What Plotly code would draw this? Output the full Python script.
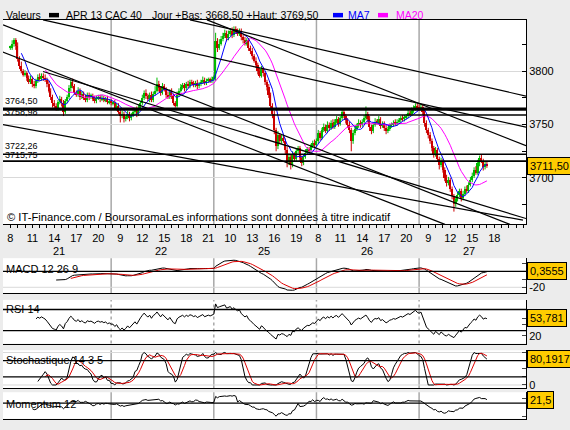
import numpy as np
import pandas as pd
import plotly.graph_objects as go

# ---------------- data ----------------
day_labels = ["21", "22", "25", "26", "27"]
first_hour = 8
hours_per_day = 14
bars_per_hour = 4

# 15-minute closes per day
close_21 = [3822, 3826, 3829, 3824, 3812, 3805, 3800, 3797, 3798, 3794, 3790, 3793,
            3788, 3786, 3791, 3795, 3793, 3796, 3794, 3792, 3788, 3782, 3776, 3770,
            3768, 3765, 3771, 3774, 3770, 3762, 3772, 3776, 3784, 3790, 3786, 3780,
            3778, 3782, 3776, 3779, 3775, 3773, 3778, 3776, 3777, 3774, 3772, 3775,
            3776, 3774, 3775, 3773, 3774, 3771, 3772, 3770]
close_22 = [3770, 3766, 3768, 3762, 3758, 3760, 3755, 3757, 3760, 3756, 3759, 3762,
            3764, 3760, 3766, 3770, 3775, 3780, 3777, 3774, 3778, 3773, 3779, 3782,
            3788, 3784, 3780, 3786, 3783, 3778, 3776, 3781, 3777, 3770, 3768, 3778,
            3782, 3785, 3787, 3784, 3788, 3786, 3790, 3789, 3787, 3789, 3786, 3788,
            3790, 3792, 3789, 3791, 3792, 3791, 3793, 3794]
close_25 = [3828, 3822, 3826, 3830, 3833, 3836, 3831, 3835, 3838, 3834, 3840, 3837,
            3835, 3838, 3832, 3829, 3826, 3829, 3822, 3819, 3814, 3810, 3806, 3800,
            3796, 3802, 3798, 3790, 3785, 3778, 3768, 3760, 3745, 3730, 3740, 3735,
            3738, 3735, 3726, 3715, 3720, 3712, 3722, 3718, 3725, 3728, 3719, 3714,
            3720, 3724, 3727, 3726, 3730, 3733, 3731, 3735]
close_26 = [3742, 3738, 3745, 3748, 3744, 3750, 3747, 3752, 3748, 3753, 3755, 3751,
            3756, 3762, 3758, 3754, 3750, 3745, 3735, 3742, 3746, 3749, 3752, 3750,
            3753, 3756, 3760, 3755, 3748, 3744, 3750, 3753, 3752, 3755, 3749, 3751,
            3747, 3744, 3746, 3749, 3750, 3752, 3751, 3753, 3754, 3756, 3755, 3757,
            3758, 3761, 3760, 3763, 3765, 3768, 3766, 3765]
close_27 = [3767, 3762, 3752, 3745, 3740, 3735, 3728, 3722, 3726, 3718, 3712, 3716,
            3708, 3700, 3695, 3698, 3690, 3683, 3676, 3680, 3684, 3688, 3681, 3685,
            3690, 3688, 3694, 3698, 3702, 3708, 3705, 3714, 3719, 3716, 3710, 3713,
            3711.5]

# upper / lower shadow lengths (points) per bar
wick_up_21 = [2, 3, 2, 2, 3, 2, 4, 2, 3, 2, 2, 3, 2, 3, 2, 2, 3, 2, 2, 3, 2, 3, 2, 2,
              3, 2, 2, 3, 2, 3, 2, 2, 3, 2, 3, 2, 2, 3, 2, 2, 2, 3, 2, 2, 2, 2, 3, 2,
              2, 2, 3, 2, 2, 3, 2, 2]
wick_dn_21 = [2, 2, 3, 4, 3, 3, 2, 2, 2, 3, 2, 2, 3, 2, 2, 2, 2, 2, 3, 2, 3, 2, 3, 4,
              3, 2, 2, 2, 3, 4, 2, 2, 2, 3, 2, 2, 2, 2, 3, 2, 2, 2, 2, 3, 2, 2, 2, 2,
              2, 3, 2, 2, 2, 2, 2, 2]
wick_up_22 = [2, 3, 2, 2, 2, 3, 2, 2, 3, 2, 2, 3, 2, 3, 3, 2, 3, 2, 3, 2, 2, 3, 2, 4,
              6, 3, 2, 3, 2, 2, 3, 2, 3, 2, 2, 3, 2, 3, 2, 2, 2, 3, 2, 2, 2, 2, 3, 2,
              2, 3, 2, 2, 2, 2, 2, 2]
wick_dn_22 = [2, 2, 3, 2, 6, 2, 3, 2, 2, 3, 2, 2, 2, 3, 2, 2, 2, 2, 3, 2, 3, 2, 2, 2,
              2, 3, 3, 2, 2, 3, 2, 2, 3, 2, 2, 2, 2, 2, 2, 3, 2, 2, 2, 2, 2, 2, 3, 2,
              2, 2, 2, 2, 2, 2, 2, 2]
wick_up_25 = [8, 3, 4, 3, 3, 3, 2, 3, 2, 3, 2, 2, 3, 2, 2, 2, 3, 2, 2, 2, 3, 2, 3, 2,
              3, 3, 2, 2, 2, 3, 2, 2, 3, 2, 4, 2, 3, 2, 2, 3, 3, 2, 3, 2, 3, 2, 2, 2,
              2, 3, 2, 2, 2, 2, 3, 2]
wick_dn_25 = [3, 4, 2, 2, 2, 2, 3, 2, 2, 3, 2, 2, 2, 2, 3, 3, 2, 2, 3, 3, 3, 2, 3, 3,
              2, 2, 3, 3, 3, 3, 4, 4, 4, 5, 3, 3, 3, 2, 4, 5, 3, 4, 2, 2, 2, 2, 3, 3,
              2, 2, 2, 2, 2, 2, 2, 2]
wick_up_26 = [3, 2, 2, 3, 2, 3, 2, 2, 3, 2, 3, 2, 2, 3, 2, 2, 2, 3, 2, 3, 2, 2, 3, 2,
              2, 3, 7, 2, 3, 2, 2, 3, 2, 3, 2, 2, 2, 3, 2, 2, 2, 2, 3, 2, 2, 2, 3, 2,
              2, 3, 2, 3, 3, 2, 2, 3]
wick_dn_26 = [3, 3, 2, 2, 2, 2, 3, 2, 2, 2, 2, 3, 2, 2, 2, 3, 3, 3, 10, 3, 2, 2, 2, 3,
              2, 2, 2, 3, 4, 3, 2, 2, 2, 2, 3, 2, 3, 3, 2, 2, 2, 2, 2, 2, 2, 2, 2, 2,
              2, 2, 2, 2, 2, 2, 3, 2]
wick_up_27 = [2.5, 2, 3, 2, 2, 3, 2, 2, 3, 2, 2, 3, 2, 2, 3, 3, 2, 2, 2, 3, 3, 2, 2, 3,
              2, 3, 2, 3, 3, 2, 3, 3, 2, 3, 2, 2, 2]
wick_dn_27 = [2, 3, 4, 3, 3, 3, 3, 3, 2, 3, 4, 2, 3, 3, 3, 2, 3, 3, 7.5, 3, 2, 2, 3, 2,
              2, 2, 2, 2, 2, 2, 2, 2, 3, 2, 3, 2, 2]

levels = [3764.50, 3758.98, 3722.26, 3715.75]
level_widths = [3.2, 1.6, 1.6, 1.6]

# user trend lines (hour index, price) -> (hour index, price)
trend_x0 = [24.51, 26.82, 4.46, -1.00, -1.13, 4.46, -1.40]
trend_p0 = [3848.1, 3848.1, 3848.1, 3843.4, 3818.3, 3799.7, 3750.4]
trend_x1 = [70.33, 70.33, 70.33, 68.14, 59.28, 70.33, 69.92]
trend_p1 = [3776.7, 3730.2, 3747.6, 3656.5, 3656.5, 3662.0, 3660.5]

last_labels = {"macd": 0.3555, "rsi": 53.781, "stoch": 80.1917, "mom": 21.5}
header_low, header_high = 3668.50, 3769.50

# ---------------- derived ----------------
closes = close_21 + close_22 + close_25 + close_26 + close_27
wick_up = wick_up_21 + wick_up_22 + wick_up_25 + wick_up_26 + wick_up_27
wick_dn = wick_dn_21 + wick_dn_22 + wick_dn_25 + wick_dn_26 + wick_dn_27
n = len(closes)
m = min(n, len(wick_up), len(wick_dn))
s = pd.Series(closes, dtype=float)
xh = np.arange(n) / bars_per_hour
opens = s.shift(1).fillna(s.iloc[0])
body_lo = np.minimum(opens, s)
body_hi = np.maximum(opens, s)
body_h = np.maximum(body_hi - body_lo, 1.2)
up = (s >= opens).values

ma7 = s.rolling(7).mean()
ma20 = s.rolling(20).mean()

ema12 = s.ewm(span=12, adjust=False).mean()
ema26 = s.ewm(span=26, adjust=False).mean()
macd = ema12 - ema26
sig = macd.ewm(span=9, adjust=False).mean()
macd[:25] = np.nan
sig[:33] = np.nan

d = s.diff()
g = d.clip(lower=0).ewm(alpha=1 / 14, adjust=False).mean()
l = (-d.clip(upper=0)).ewm(alpha=1 / 14, adjust=False).mean()
rsi = 100 - 100 / (1 + g / l)
rsi[:14] = np.nan

lo14 = s.rolling(14).min()
hi14 = s.rolling(14).max()
kraw = 100 * (s - lo14) / (hi14 - lo14)
k = kraw.rolling(3).mean()
dd = k.rolling(5).mean()

mom = s - s.shift(12)

# ---------------- layout helpers ----------------
W, H = 570, 430
def py(px):
    return 1 - px / H

X0, X1 = 3 / W, 526 / W
XR = [-1.0, 70.33]

FONT = "Liberation Sans, Arial, sans-serif"
GREEN = "#00bb00"
RED = "#cc0000"
GRIDC = "#d9d9d9"
DAYC = "#a8a8a8"

fig = go.Figure()

# shadows
for is_up, col in [(True, GREEN), (False, RED)]:
    wx, wy = [], []
    for i in range(m):
        if bool(up[i]) == is_up:
            wx += [xh[i], xh[i], None]
            wy += [body_lo[i] - wick_dn[i], body_hi[i] + wick_up[i], None]
    fig.add_trace(go.Scatter(x=wx, y=wy, mode="lines", line=dict(color=col, width=1),
                             hoverinfo="skip", xaxis="x", yaxis="y"))

# bodies
fig.add_trace(go.Bar(
    x=xh, y=body_h, base=body_lo, width=0.22,
    marker=dict(color=[GREEN if u else RED for u in up], line=dict(width=0)),
    hoverinfo="skip", xaxis="x", yaxis="y"))

fig.add_trace(go.Scatter(x=xh, y=ma20, mode="lines", line=dict(color="#ff00ff", width=1),
                         hoverinfo="skip", xaxis="x", yaxis="y"))
fig.add_trace(go.Scatter(x=xh, y=ma7, mode="lines", line=dict(color="#0000ff", width=1),
                         hoverinfo="skip", xaxis="x", yaxis="y"))

tx, ty = [], []
for a, b, c, e in zip(trend_x0, trend_p0, trend_x1, trend_p1):
    tx += [a, c, None]
    ty += [b, e, None]
fig.add_trace(go.Scatter(x=tx, y=ty, mode="lines", line=dict(color="black", width=1.2),
                         hoverinfo="skip", xaxis="x", yaxis="y"))

label_shift = [8, 3, 8, 6]
for lv, lw, sh in zip(levels, level_widths, label_shift):
    fig.add_trace(go.Scatter(x=XR, y=[lv, lv], mode="lines", line=dict(color="black", width=lw),
                             hoverinfo="skip", xaxis="x", yaxis="y"))
    fig.add_annotation(x=4 / W, xref="paper", y=lv, yref="y", xanchor="left", yanchor="middle",
                       yshift=sh, text=f"{lv:.2f}".replace(".", ","), showarrow=False,
                       font=dict(family=FONT, size=9, color="black"), borderpad=0)

# indicators
fig.add_trace(go.Scatter(x=xh, y=macd, mode="lines", line=dict(color="black", width=1),
                         hoverinfo="skip", xaxis="x2", yaxis="y2"))
fig.add_trace(go.Scatter(x=xh, y=sig, mode="lines", line=dict(color="#dd0000", width=1),
                         hoverinfo="skip", xaxis="x2", yaxis="y2"))
fig.add_trace(go.Scatter(x=xh, y=rsi, mode="lines", line=dict(color="black", width=1),
                         hoverinfo="skip", xaxis="x3", yaxis="y3"))
fig.add_trace(go.Scatter(x=xh, y=k, mode="lines", line=dict(color="black", width=1),
                         hoverinfo="skip", xaxis="x4", yaxis="y4"))
fig.add_trace(go.Scatter(x=xh, y=dd, mode="lines", line=dict(color="#dd0000", width=1),
                         hoverinfo="skip", xaxis="x4", yaxis="y4"))
fig.add_trace(go.Scatter(x=xh, y=mom, mode="lines", line=dict(color="black", width=1),
                         hoverinfo="skip", xaxis="x5", yaxis="y5"))

ind_lines = [("y2", 0), ("y3", 70), ("y3", 30), ("y4", 75), ("y4", 25), ("y5", 0)]
for ax, v in ind_lines:
    fig.add_shape(type="line", xref="x domain", yref=ax, x0=0, x1=1, y0=v, y1=v,
                  line=dict(color="black", width=1.3))

last_label_idx = 66
tickvals = list(range(0, 71))
ticktext = [str(first_hour + (i % hours_per_day)) if (i % 3 == 0 and i <= last_label_idx) else ""
            for i in tickvals]

day_starts = [i * hours_per_day for i in range(1, len(day_labels))]
for xa, ya, dash in [("x", "y", "solid"), ("x2", "y2", "solid"), ("x3", "y3", "dot"),
                     ("x4", "y4", "solid"), ("x5", "y5", "solid")]:
    for ds in day_starts:
        fig.add_shape(type="line", xref=xa, yref=f"{ya} domain", x0=ds - 0.25, x1=ds - 0.25,
                      y0=0, y1=1, line=dict(color=DAYC, width=1.5, dash=dash), layer="below")

for i, dl in enumerate(day_labels):
    fig.add_annotation(x=i * hours_per_day + 6.6, xref="x", y=py(253), yref="paper",
                       text=dl, showarrow=False, font=dict(family=FONT, size=11, color="black"))

axis_common = dict(showgrid=False, zeroline=False, range=XR, linecolor="black", linewidth=1,
                   showline=True, fixedrange=True)
ytick_font = dict(family=FONT, size=11, color="black")

fig.update_layout(
    width=W, height=H, autosize=False, margin=dict(l=0, r=0, t=0, b=0),
    paper_bgcolor="#ececec", plot_bgcolor="white", showlegend=False, bargap=0,
    xaxis=dict(domain=[X0, X1], anchor="y", mirror=True, ticks="outside", ticklen=3,
               tickcolor="black", tickvals=tickvals, ticktext=ticktext,
               tickfont=dict(family=FONT, size=11, color="black"), **axis_common),
    yaxis=dict(domain=[py(226), py(20)], anchor="x", side="right", range=[3656.5, 3848.1],
               tickvals=[3700, 3750, 3800], ticks="inside", ticklen=4, tickcolor="black",
               minor=dict(tickvals=[3675, 3725, 3775, 3825], ticks="inside", ticklen=4,
                          tickcolor="black"),
               showgrid=True, gridcolor=GRIDC, zeroline=False, showline=True,
               linecolor="black", tickfont=ytick_font),
    xaxis2=dict(domain=[X0, X1], anchor="y2", matches="x", showticklabels=False, **axis_common),
    yaxis2=dict(domain=[py(295), py(260)], anchor="x2", side="right", range=[-27.1, 16.6],
                tickvals=[10, 0, -10, -20], ticktext=["", "", "", "-20"], ticks="inside",
                ticklen=4, showgrid=False, zeroline=False, showline=True, linecolor="black",
                tickfont=ytick_font),
    xaxis3=dict(domain=[X0, X1], anchor="y3", matches="x", showticklabels=False, **axis_common),
    yaxis3=dict(domain=[py(346), py(302)], anchor="x3", side="right", range=[5.6, 88.2],
                tickvals=[53, 41, 20], ticktext=["", "", "20"], ticks="inside", ticklen=4,
                showgrid=False, zeroline=False, showline=True, linecolor="black",
                tickfont=ytick_font),
    xaxis4=dict(domain=[X0, X1], anchor="y4", matches="x", showticklabels=False, **axis_common),
    yaxis4=dict(domain=[py(390.7), py(352.7)], anchor="x4", side="right", range=[-9.2, 107],
                tickvals=[100, 75, 50, 25, 0], ticktext=["", "", "", "", "0"], ticks="inside",
                ticklen=4, showgrid=False, zeroline=False, showline=True, linecolor="black",
                tickfont=ytick_font),
    xaxis5=dict(domain=[X0, X1], anchor="y5", matches="x", showticklabels=False, **axis_common),
    yaxis5=dict(domain=[py(421.7), py(395)], anchor="x5", side="right", range=[-95.7, 67],
                tickvals=[30, -80], ticktext=["", ""], ticks="inside", ticklen=4,
                showgrid=False, zeroline=False, showline=True, linecolor="black",
                tickfont=ytick_font),
)

for ax, v in [("y2", -20), ("y4", 100), ("y4", 0)]:
    fig.add_shape(type="line", xref="x domain", yref=ax, x0=0, x1=1, y0=v, y1=v,
                  line=dict(color=GRIDC, width=1), layer="below")

def fmt(v, dec):
    return f"{v:.{dec}f}".replace(".", ",")

boxes = [("y", closes[-1], fmt(closes[-1], 2)),
         ("y2", last_labels["macd"], fmt(last_labels["macd"], 4)),
         ("y3", last_labels["rsi"], fmt(last_labels["rsi"], 3)),
         ("y4", last_labels["stoch"], fmt(last_labels["stoch"], 4)),
         ("y5", last_labels["mom"], fmt(last_labels["mom"], 1))]
for ax, v, t in boxes:
    fig.add_annotation(x=527 / W, xref="paper", y=v, yref=ax, xanchor="left", yanchor="middle",
                       text=t, showarrow=False, bgcolor="#ffcc00", bordercolor="black",
                       borderwidth=1, borderpad=2, font=dict(family=FONT, size=11, color="black"))

for t, ypx in [("MACD 12 26 9", 270.5), ("RSI 14", 311.5), ("Stochastique 14 3 5", 362.5),
               ("Momentum 12", 407)]:
    fig.add_annotation(x=4 / W, xref="paper", y=py(ypx), yref="paper", xanchor="left",
                       yanchor="middle", text=t, showarrow=False,
                       font=dict(family=FONT, size=11, color="black"))

fig.add_annotation(x=5 / W, xref="paper", y=py(219), yref="paper", xanchor="left", yanchor="middle",
                   text="\u00a9 IT-Finance.com / BoursoramaLes informations sont données à titre indicatif",
                   showarrow=False, font=dict(family=FONT, size=11.2, color="black"))

hy = py(15)
hdr_font = dict(family=FONT, size=10.5, color="black")
fig.add_annotation(x=4 / W, xref="paper", y=hy, yref="paper", xanchor="left", yanchor="middle",
                   text="Valeurs", showarrow=False, font=hdr_font)
fig.add_annotation(x=64 / W, xref="paper", y=hy, yref="paper", xanchor="left", yanchor="middle",
                   text="APR 13 CAC 40", showarrow=False, font=hdr_font)
fig.add_annotation(x=150 / W, xref="paper", y=hy, yref="paper", xanchor="left", yanchor="middle",
                   text=f"Jour +Bas: {fmt(header_low, 2)} +Haut: {fmt(header_high, 2)}",
                   showarrow=False, font=hdr_font)
fig.add_annotation(x=346 / W, xref="paper", y=hy, yref="paper", xanchor="left", yanchor="middle",
                   text="MA7", showarrow=False, font=dict(family=FONT, size=10.5, color="#0000ff"))
fig.add_annotation(x=394 / W, xref="paper", y=hy, yref="paper", xanchor="left", yanchor="middle",
                   text="MA20", showarrow=False, font=dict(family=FONT, size=10.5, color="#ff00ff"))
for x0, col in [(49, "black"), (333, "#0000ff"), (378, "#ff00ff")]:
    fig.add_shape(type="rect", xref="paper", yref="paper", x0=x0 / W, x1=(x0 + 10) / W,
                  y0=py(17.5), y1=py(13), fillcolor=col, line=dict(width=0))

fig.write_html("out.html")
